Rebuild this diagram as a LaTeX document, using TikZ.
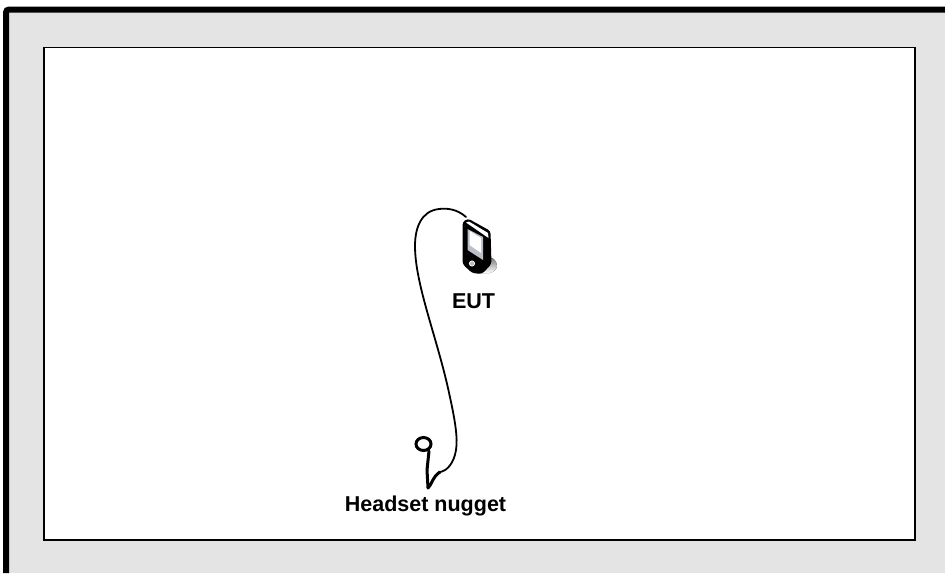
\documentclass[tikz,border=0pt]{standalone}
\usepackage{fontspec}
\usetikzlibrary{shapes.geometric}
\setmainfont{Liberation Sans}
\definecolor{panel}{HTML}{E4E4E4}
\definecolor{shade}{HTML}{E6E6E6}
\definecolor{screen}{HTML}{B9BEC8}
\tikzset{
  lbl/.style={font=\fontsize{21.5}{24}\selectfont\bfseries,text=black,inner sep=0pt},
  cable/.style={draw=black,line width=1.8pt,line cap=round,line join=round},
  nub/.style={draw=black,line width=3pt,line cap=round,line join=round}
}
\begin{document}
\begin{tikzpicture}[x=1pt,y=-1pt]
\useasboundingbox (0,0) rectangle (945,573);
\fill[white] (0,0) rectangle (945,573);
\fill[panel] (6,9.5) rectangle (945,573);
\draw[black,line width=6pt] (6,573) -- (6,12.5) arc[start angle=180,end angle=270,radius=3] -- (945,9.5);
\draw[black,line width=1.7pt,fill=white] (44,47.5) rectangle (915,540);
% phone
\fill[shade] (482,266) -- (492,258) .. controls (499,262) and (499,270) .. (490,273) -- (478,273) -- cycle;
\fill[black,rounded corners=3pt] (462.5,222) -- (468,218.5) -- (490.5,231) -- (491.5,264) -- (482,274) -- (472,273) -- (462.5,264) -- cycle;
\fill[white] (466,222.5) -- (469,221.5) -- (488,233) -- (488.5,238) -- cycle;
\fill[screen] (467.5,229) -- (483,237) -- (483,260) -- (467.5,250) -- cycle;
\fill[white] (469.5,231) -- (481,238) -- (481,253) -- (469.5,245) -- cycle;
\draw[fill=gray!55,draw=white,line width=.8pt] (472,263.5) circle (2.6);
\coordinate (phonetop) at (466,217);
% nugget
\node[ellipse,draw=black,line width=3pt,fill=white,minimum width=15pt,minimum height=13pt,inner sep=0pt] (nugget) at (423.5,444) {};
\coordinate (stem) at (429,451);
\coordinate (tip) at (428,488);
\coordinate (join) at (440,472);
% cable
\draw[cable] (phonetop) .. controls (457,209) and (447,208) .. (439,209)
  .. controls (421,211) and (415,228) .. (415,246)
  .. controls (415,285) and (438,340) .. (449.5,395)
  .. controls (455,420) and (458,438) .. (456,450)
  .. controls (454,463) and (447,471) .. (join);
\draw[nub] (stem) -- (427,470) -- (tip) .. controls (431,486) and (433,476) .. (join);
\node[lbl] (eut) at (473.5,301) {EUT};
\node[lbl] (hn) at (425.5,506) {Headset nugget};
\end{tikzpicture}
\end{document}
